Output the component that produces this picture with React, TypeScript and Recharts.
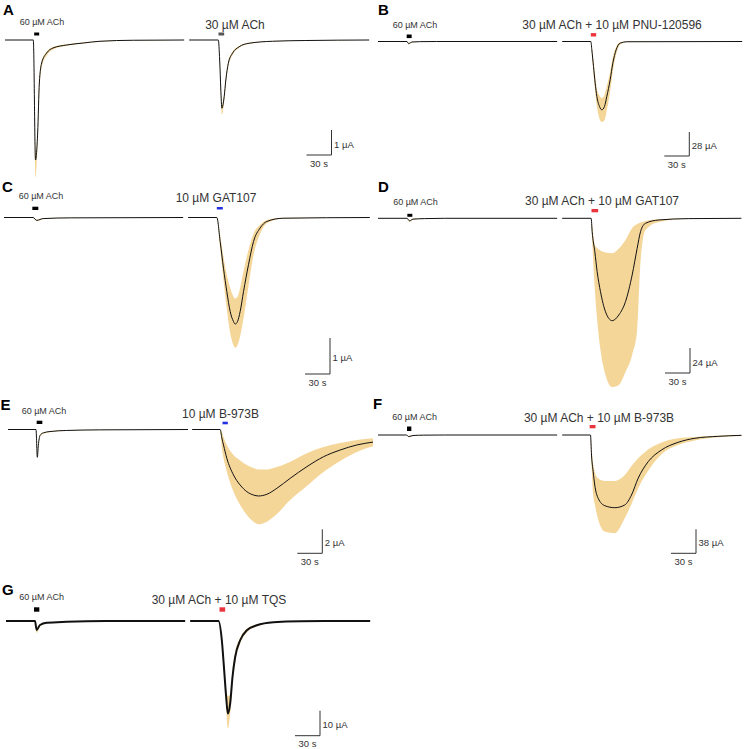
import React from 'react';
import {
  ComposedChart,
  Area,
  Line,
  XAxis,
  YAxis,
  ReferenceArea,
  ReferenceLine,
} from 'recharts';

// each point: [time in trace (s), mean, mean - SEM, mean + SEM]  (µA)
type Pt = [number, number, number, number];

// A: 60 µM ACh control / 30 µM ACh
const A_CTRL: Pt[] = [
  [0, 0, 0, 0], [34, 0, 0, 0], [36.6, -4.8, -5.5, -4.5], [39.2, -3.72, -4.0, -3.55],
  [41.2, -1.72, -2.05, -1.6], [44, -0.92, -1.1, -0.85], [50, -0.52, -0.62, -0.47],
  [57.6, -0.32, -0.38, -0.28], [74, -0.2, -0.23, -0.17], [94, -0.12, -0.14, -0.1],
  [114, -0.05, -0.07, -0.04], [154, -0.01, -0.02, -0.01], [215, 0, 0, 0],
];
const A_TEST: Pt[] = [
  [0, 0, 0, 0], [35, 0, 0, 0], [36.6, -0.8, -0.9, -0.7], [38, -2.0, -2.2, -1.85],
  [39.2, -2.73, -3.0, -2.6], [42, -2.27, -2.45, -2.15], [44, -1.6, -1.75, -1.5],
  [47, -0.93, -1.05, -0.85], [52, -0.53, -0.6, -0.48], [60, -0.27, -0.31, -0.24],
  [72, -0.13, -0.15, -0.11], [100, -0.05, -0.06, -0.04], [140, -0.02, -0.02, -0.01],
  [216, 0, 0, 0],
];

// B: 60 µM ACh / 30 µM ACh + 10 µM PNU-120596
const B_CTRL: Pt[] = [
  [0, 0, 0, 0], [34.8, 0, 0, 0], [36.6, -2.5, -3.2, -1.8], [40.8, -0.6, -0.9, -0.4],
  [50, -0.2, -0.3, -0.1], [70, 0, 0, 0], [215, 0, 0, 0],
];
const B_TEST: Pt[] = [
  [0, 0, 0, 0], [34.4, 0, 0, 0], [35.6, -9.7, -13, -6], [37.6, -29.2, -37, -22],
  [39.6, -48.5, -58, -40], [41.6, -64, -75, -55], [44.8, -75.8, -90, -63],
  [47.6, -79.7, -94, -66], [50.8, -75.8, -92, -62], [53.6, -64, -80, -52],
  [57.6, -44.7, -58, -35], [60.8, -25.2, -35, -18], [64.8, -9.7, -15, -6],
  [69.6, -1.9, -3.5, -1], [77.6, -0.3, -0.5, -0.1], [216, 0, 0, 0],
];

// C: 60 µM ACh / 10 µM GAT107
const C_CTRL: Pt[] = [
  [0, 0, 0, 0], [35, 0, 0, 0], [39.2, -0.08, -0.1, -0.06], [47, -0.03, -0.04, -0.02],
  [80, -0.01, -0.01, 0], [215, 0, 0, 0],
];
const C_TEST: Pt[] = [
  [0, 0, 0, 0], [34.4, 0, 0, 0], [38.4, -0.67, -0.85, -0.5], [42.4, -1.41, -1.75, -1.1],
  [46.4, -2.06, -2.55, -1.6], [50.4, -2.61, -3.2, -1.95], [54.4, -2.89, -3.55, -2.2],
  [56.4, -2.96, -3.62, -2.25], [59.2, -2.89, -3.55, -2.2], [62.4, -2.61, -3.3, -1.95],
  [66.4, -2.06, -2.8, -1.5], [72.4, -1.31, -1.9, -0.9], [78.4, -0.67, -1.05, -0.45],
  [86.4, -0.29, -0.45, -0.2], [94.4, -0.11, -0.16, -0.07], [114, -0.02, -0.03, -0.01],
  [218, 0, 0, 0],
];

// D: 60 µM ACh / 30 µM ACh + 10 µM GAT107
const D_CTRL: Pt[] = [
  [0, 0, 0, 0], [34.8, 0, 0, 0], [37.8, -2.5, -3.2, -1.8], [42, -0.8, -1.1, -0.5],
  [56, -0.3, -0.4, -0.2], [80, 0, 0, 0], [215, 0, 0, 0],
];
const D_TEST: Pt[] = [
  [0, 0, 0, 0], [34.8, 0, 0, 0], [36, -12.9, -20.8, -6.4], [39.2, -32.1, -68.8, -25.6],
  [42, -51.3, -97.6, -28.5], [46, -70.5, -126.4, -30.9], [52, -89.7, -150.4, -32.8],
  [60, -98.3, -162, -33.6], [68, -92.8, -160, -29], [76, -80, -147.6, -20.8],
  [84, -54.4, -131.2, -9.3], [90, -28.8, -107, -5.5], [94, -12.9, -42, -4],
  [100, -4.8, -11.2, -2.6], [116, -1.6, -3.5, -0.8], [152, -0.3, -0.5, -0.1],
  [215, 0, 0, 0],
];

// E: 60 µM ACh / 10 µM B-973B
const E_CTRL: Pt[] = [
  [0, 0, 0, 0], [33.6, 0, 0, 0], [35.2, -2.31, -2.45, -2.2], [36.4, -1.33, -1.5, -1.25],
  [38.4, -0.5, -0.6, -0.45], [42.4, -0.28, -0.35, -0.24], [50.4, -0.17, -0.22, -0.14],
  [70, -0.08, -0.1, -0.06], [110, -0.03, -0.04, -0.02], [216, 0, 0, 0],
];
const E_TEST: Pt[] = [
  [0, 0, 0, 0], [33.6, 0, 0, 0], [35.6, -0.7, -1.57, -0.18], [37.6, -1.29, -2.38, -0.63],
  [41.6, -2.4, -3.52, -1.29], [49.6, -3.79, -5.18, -2.13], [57.6, -4.63, -6.29, -2.58],
  [65.6, -5.18, -7.13, -2.96], [73.6, -5.46, -7.68, -3.21], [79.6, -5.54, -7.9, -3.33],
  [89.6, -5.4, -7.68, -3.33], [101.6, -4.9, -7.04, -3.13], [117.6, -4.07, -5.88, -2.68],
  [137.6, -3.1, -4.71, -1.98], [157.6, -2.27, -3.54, -1.46], [177.6, -1.71, -2.63, -1.13],
  [197.6, -1.29, -1.88, -0.88], [217, -1.05, -1.4, -0.72],
];

// F: 60 µM ACh / 30 µM ACh + 10 µM B-973B
const F_CTRL: Pt[] = [
  [0, 0, 0, 0], [34, 0, 0, 0], [37, -2.5, -3.5, -1.5], [42, -0.8, -1.2, -0.4],
  [55, -0.2, -0.3, -0.1], [80, 0, 0, 0], [215, 0, 0, 0],
];
const F_TEST: Pt[] = [
  [0, 0, 0, 0], [34, 0, 0, 0], [35.2, -31.7, -45, -20], [37.2, -58.1, -95, -45],
  [39.1, -79.2, -109.4, -58], [43.2, -100.2, -133.8, -68.5], [51.1, -111.9, -152.9, -72.8],
  [63.1, -115.1, -155.6, -72.8], [75.1, -110.8, -132, -63.3], [83.2, -95, -109.2, -49.1],
  [91.2, -68.5, -84.4, -36.9], [103.2, -42.3, -56.7, -23.1], [119.2, -23.7, -30.4, -11.9],
  [139.2, -11.6, -15.8, -5.2], [159.1, -5.2, -8.7, -3.2], [187.2, -2.1, -3.6, -1.3],
  [215.2, -0.5, -1.6, -0.3],
];

// G: 60 µM ACh / 30 µM ACh + 10 µM TQS
const G_CTRL: Pt[] = [
  [0, 0, 0, 0], [34.8, 0, 0, 0], [36.8, -3.6, -4.8, -3], [40.8, -1.6, -2.2, -1.3],
  [48.8, -0.7, -1, -0.5], [72.8, -0.3, -0.4, -0.2], [120, 0, 0, 0], [215, 0, 0, 0],
];
const G_TEST: Pt[] = [
  [0, 0, 0, 0], [34, 0, 0, 0], [38, -7.7, -9, -6.5], [40.8, -19.7, -22, -17],
  [43.2, -30.4, -34, -27], [45.2, -37, -43, -30], [48, -33, -37, -29.5],
  [50.8, -22.4, -25, -20], [54, -14.4, -16.5, -12.5], [60, -7.7, -9, -6.7],
  [68, -3.7, -4.5, -3.1], [80, -1.7, -2.2, -1.4], [100, -0.5, -0.7, -0.4],
  [132, -0.1, -0.1, 0], [216, 0, 0, 0],
];

const PANEL_IDS = ['A', 'B', 'C', 'D', 'E', 'F', 'G'];
const CTRL_TRACES = [A_CTRL, B_CTRL, C_CTRL, D_CTRL, E_CTRL, F_CTRL, G_CTRL];
const TEST_TRACES = [A_TEST, B_TEST, C_TEST, D_TEST, E_TEST, F_TEST, G_TEST];
const TITLES = [
  '30 µM ACh',
  '30 µM ACh + 10 µM PNU-120596',
  '10 µM GAT107',
  '30 µM ACh + 10 µM GAT107',
  '10 µM B-973B',
  '30 µM ACh + 10 µM B-973B',
  '30 µM ACh + 10 µM TQS',
];
const CTRL_LABEL = '60 µM ACh';
const SCALE_UNITS = [1, 28, 1, 24, 2, 38, 10]; // µA
const SCALE_SECONDS = 30;
// drug application windows (s from trace start)
const APP_CTRL: [number, number][] = [
  [35, 41], [34.4, 40.4], [34, 41.2], [35.2, 41.2], [34.4, 41.2], [34.8, 40], [33.6, 40],
];
const APP_TEST: [number, number][] = [
  [35.2, 42], [34.4, 40.8], [34.4, 41.6], [35.2, 43.2], [36.4, 42.8], [33, 40], [35.2, 42],
];

const GAP = 221; // s between start of control trace and test trace
const SEC_PER_PX = 1.2;
const BAND = '#f5d699';
const RED = '#e8343a';
const BLUE = '#2431e0';
const TEST_BAR_COLORS = ['#555555', RED, BLUE, RED, BLUE, RED, RED];
const FONT = '"Liberation Sans", Arial, Helvetica, sans-serif';

// page layout of each panel (pixels)
const LAYOUT = [
  { left: 5, top: 25, width: 368, height: 162, baseY: 40, barPx: 25, corner: [331.5, 155], ctrlBar: [4.5, 7.5], testBar: [4.5, 7.5], title: [235, 28.5], ach: [42, 25], letter: [3, 14.5], lw: 1 },
  { left: 378, top: 27, width: 366, height: 135, baseY: 41.5, barPx: 24, corner: [689.3, 156], ctrlBar: [3.4, 7], testBar: [5, 8.4], title: [612, 28.5], ach: [415, 27.5], letter: [378, 14.5], lw: 1 },
  { left: 4, top: 202, width: 368, height: 178, baseY: 217.5, barPx: 36, corner: [330, 374], ctrlBar: [7.5, 10.8], testBar: [8, 10.5], title: [216, 201.5], ach: [41, 199], letter: [2, 191.5], lw: 1 },
  { left: 378, top: 203, width: 366, height: 190, baseY: 218.3, barPx: 25, corner: [690, 373], ctrlBar: [1.5, 4.5], testBar: [6, 9.3], title: [602, 204.5], ach: [415.5, 205], letter: [378, 191.5], lw: 1 },
  { left: 8, top: 414, width: 366, height: 145, baseY: 429.5, barPx: 24, corner: [322.3, 553.3], ctrlBar: [5.5, 8.8], testBar: [5.2, 7.8], title: [220.5, 417.5], ach: [44, 413.5], letter: [0.5, 410], lw: 1 },
  { left: 378, top: 420, width: 366, height: 140, baseY: 435, barPx: 24, corner: [696, 553.3], ctrlBar: [4, 8.5], testBar: [6.7, 10], title: [599, 421.5], ach: [414.7, 420], letter: [373, 408.5], lw: 1 },
  { left: 6, top: 605, width: 368, height: 140, baseY: 621, barPx: 25, corner: [320, 735.7], ctrlBar: [9.3, 13.7], testBar: [9.3, 13.7], title: [219, 604], ach: [41.7, 600], letter: [2, 595], lw: 2 },
];

const toRows = (pts: Pt[], shift: number) =>
  pts.map(([t, mean, lo, hi]) => ({ t: t + shift, mean, band: [lo, hi] }));

const Panel = ({ i }: { i: number }) => {
  const L = LAYOUT[i];
  const upp = SCALE_UNITS[i] / L.barPx;
  const yHi = (L.baseY - L.top) * upp;
  const yLo = -(L.top + L.height - L.baseY) * upp;
  const ctrl = toRows(CTRL_TRACES[i], 0);
  const test = toRows(TEST_TRACES[i], GAP);
  const cx = (L.corner[0] - L.left) * SEC_PER_PX;
  const cy = -(L.corner[1] - L.baseY) * upp;

  return (
    <div style={{ position: 'absolute', left: L.left, top: L.top }}>
      <ComposedChart
        width={L.width}
        height={L.height}
        margin={{ top: 0, right: 0, bottom: 0, left: 0 }}
      >
        <XAxis
          type="number"
          dataKey="t"
          domain={[0, L.width * SEC_PER_PX]}
          hide
          allowDataOverflow
        />
        <YAxis type="number" domain={[yLo, yHi]} hide allowDataOverflow />
        <Area
          data={ctrl}
          dataKey="band"
          type="monotone"
          stroke="none"
          fill={BAND}
          fillOpacity={1}
          isAnimationActive={false}
        />
        <Area
          data={test}
          dataKey="band"
          type="monotone"
          stroke="none"
          fill={BAND}
          fillOpacity={1}
          isAnimationActive={false}
        />
        <Line
          data={ctrl}
          dataKey="mean"
          type="monotone"
          stroke="#111"
          strokeWidth={L.lw}
          dot={false}
          isAnimationActive={false}
        />
        <Line
          data={test}
          dataKey="mean"
          type="monotone"
          stroke="#111"
          strokeWidth={L.lw}
          dot={false}
          isAnimationActive={false}
        />
        <ReferenceArea
          x1={APP_CTRL[i][0]}
          x2={APP_CTRL[i][1]}
          y1={L.ctrlBar[0] * upp}
          y2={L.ctrlBar[1] * upp}
          fill="#000"
          fillOpacity={1}
          stroke="none"
          ifOverflow="visible"
        />
        <ReferenceArea
          x1={APP_TEST[i][0] + GAP}
          x2={APP_TEST[i][1] + GAP}
          y1={L.testBar[0] * upp}
          y2={L.testBar[1] * upp}
          fill={TEST_BAR_COLORS[i]}
          fillOpacity={1}
          stroke="none"
          ifOverflow="visible"
        />
        {/* scale bar */}
        <ReferenceLine
          segment={[
            { x: cx - SCALE_SECONDS, y: cy },
            { x: cx, y: cy },
          ]}
          stroke="#333"
          strokeWidth={1}
          ifOverflow="visible"
        />
        <ReferenceLine
          segment={[
            { x: cx, y: cy },
            { x: cx, y: cy + SCALE_UNITS[i] },
          ]}
          stroke="#333"
          strokeWidth={1}
          ifOverflow="visible"
        />
      </ComposedChart>
    </div>
  );
};

export default function App() {
  return (
    <div
      style={{
        position: 'absolute',
        left: 0,
        top: 0,
        width: 746,
        height: 749,
        background: '#fff',
        overflow: 'hidden',
      }}
    >
      {PANEL_IDS.map((id, i) => (
        <Panel key={id} i={i} />
      ))}
      <svg
        width={746}
        height={749}
        style={{ position: 'absolute', left: 0, top: 0, pointerEvents: 'none' }}
        fontFamily={FONT}
      >
        {PANEL_IDS.map((id, i) => {
          const L = LAYOUT[i];
          const [cxp, cyp] = L.corner;
          return (
            <g key={id}>
              <text x={L.letter[0]} y={L.letter[1]} fontSize={15} fontWeight="bold" fill="#000">
                {id}
              </text>
              <text x={L.ach[0]} y={L.ach[1]} fontSize={9} textAnchor="middle" fill="#333">
                {CTRL_LABEL}
              </text>
              <text x={L.title[0]} y={L.title[1]} fontSize={12} textAnchor="middle" fill="#333">
                {TITLES[i]}
              </text>
              <text x={cxp + 2.5} y={cyp - L.barPx / 2 + 5} fontSize={9.5} fill="#333">
                {`${SCALE_UNITS[i]} µA`}
              </text>
              <text x={cxp - 12.5} y={cyp + 11.5} fontSize={9.5} textAnchor="middle" fill="#333">
                {`${SCALE_SECONDS} s`}
              </text>
            </g>
          );
        })}
      </svg>
    </div>
  );
}
